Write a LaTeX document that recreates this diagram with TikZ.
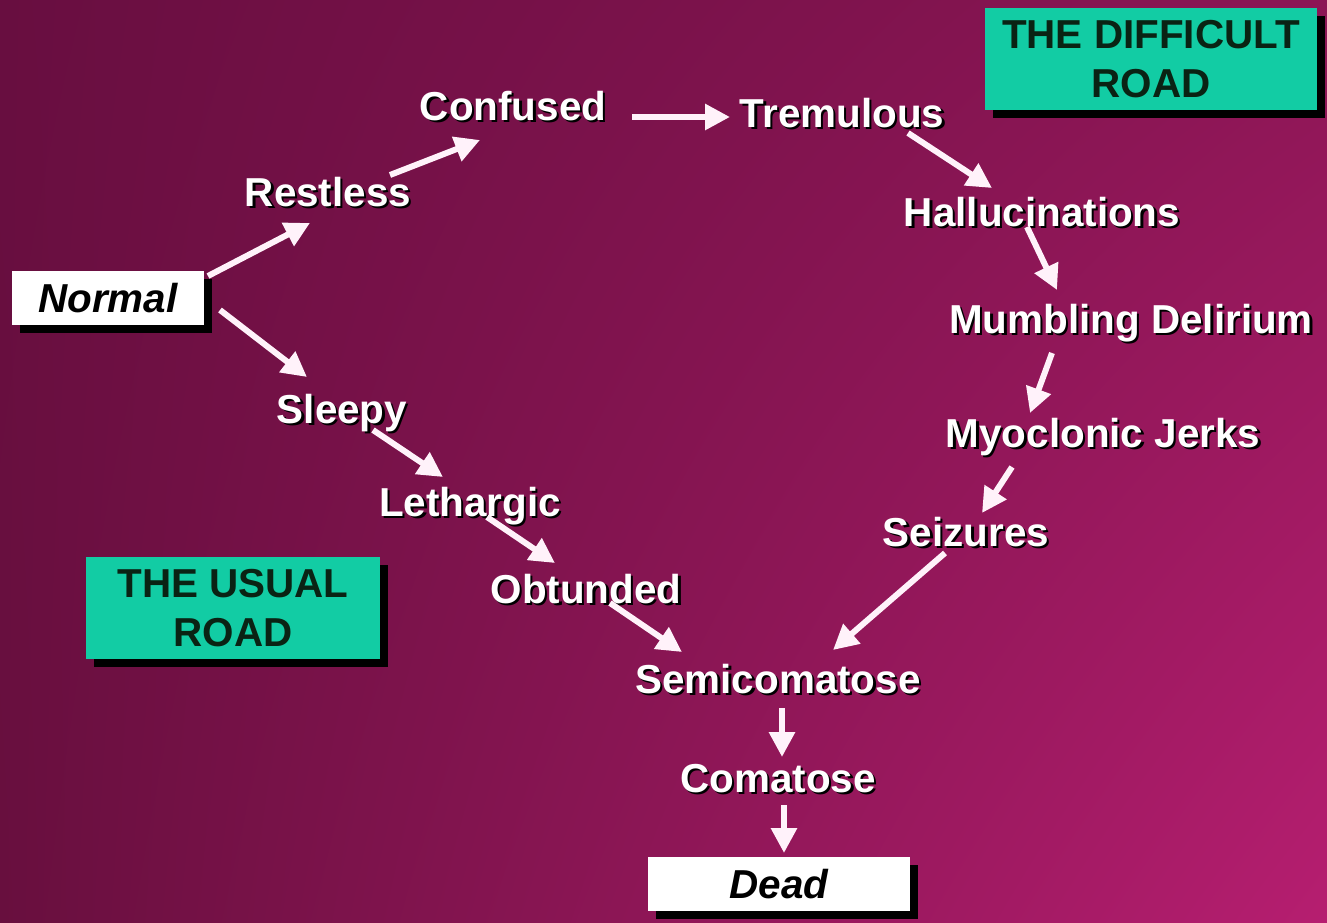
\documentclass[tikz,border=0pt]{standalone}
\usepackage{fontspec}
\setmainfont{Liberation Sans}
\usetikzlibrary{arrows.meta, shadows, shadings}

\definecolor{bgul}{RGB}{104,14,64}
\definecolor{bgur}{RGB}{140,22,85}
\definecolor{bgll}{RGB}{104,15,62}
\definecolor{bglr}{RGB}{182,30,112}
\definecolor{roadteal}{RGB}{18,204,164}
\definecolor{roadtext}{RGB}{10,35,20}
\definecolor{arrowwhite}{RGB}{255,242,250}

% white label with a small dark offset copy behind it
\newcommand\shtext[1]{\makebox[0pt][l]{\kern1.3pt\raisebox{-1.3pt}{\color{black}#1}}#1}

\begin{document}
\begin{tikzpicture}[
  x=0.02cm, y=-0.02cm,
  font=\fontsize{23}{28}\selectfont\bfseries,
  >={Triangle[length=5mm, width=5mm]},
  stage/.style={text=white, inner sep=0pt, text height=16pt, text depth=1pt},
  endbox/.style={fill=white, text=black, minimum height=1.07cm,
    font=\fontsize{23}{28}\selectfont\bfseries\itshape,
    drop shadow={shadow xshift=0.16cm, shadow yshift=-0.16cm, fill=black, opacity=1}},
  roadbox/.style={fill=roadteal, text=roadtext, align=center, minimum height=2.05cm,
    drop shadow={shadow xshift=0.16cm, shadow yshift=-0.16cm, fill=black, opacity=1}},
  flow/.style={->, arrowwhite, line width=3.4pt}
]
\useasboundingbox (0,0) rectangle (1327,922);
\shade[upper left=bgul, upper right=bgur, lower left=bgll, lower right=bglr]
  (0,0) rectangle (1327,922);

% the usual road, down the left
\node[endbox, minimum width=3.86cm] (norm) at (108,298) {Normal};
\node[stage] (rest)  at (328,193) {\shtext{Restless}};
\node[stage] (conf)  at (513,107) {\shtext{Confused}};
\node[stage] (sleep) at (342,410) {\shtext{Sleepy}};
\node[stage] (leth)  at (470,503) {\shtext{Lethargic}};
\node[stage] (obtu)  at (586,590) {\shtext{Obtunded}};
% the difficult road, round the right
\node[stage] (trem)  at (842,114) {\shtext{Tremulous}};
\node[stage] (hall)  at (1042,213) {\shtext{Hallucinations}};
\node[stage] (mumb)  at (1131,320) {\shtext{Mumbling Delirium}};
\node[stage] (myoc)  at (1103,434) {\shtext{Myoclonic Jerks}};
\node[stage] (seiz)  at (966,533) {\shtext{Seizures}};
% both roads end here
\node[stage] (semi)  at (778,680) {\shtext{Semicomatose}};
\node[stage] (coma)  at (778,779) {\shtext{Comatose}};
\node[endbox, minimum width=5.24cm] (dead) at (779,884) {Dead};

\node[roadbox, minimum width=5.88cm] (usual) at (233,608) {THE USUAL\\ROAD};
\node[roadbox, minimum width=6.64cm] (diff) at (1151,59) {THE DIFFICULT\\ROAD};

\draw[flow] ([shift={(100,-22)}]norm.center) -- ([shift={(-18,30)}]rest.center);
\draw[flow] ([shift={(62,-18)}]rest.center) -- ([shift={(-33,33)}]conf.center);
\draw[flow] ([shift={(119,10)}]conf.center) -- ([shift={(-112,3)}]trem.center);
\draw[flow] ([shift={(66,19)}]trem.center) -- ([shift={(-50,-25)}]hall.center);
\draw[flow] ([shift={(-15,14)}]hall.center) -- ([shift={(-74,-30)}]mumb.center);
\draw[flow] ([shift={(-79,33)}]mumb.center) -- ([shift={(-73,-21)}]myoc.center);
\draw[flow] ([shift={(-91,33)}]myoc.center) -- ([shift={(16,-20)}]seiz.center);
\draw[flow] ([shift={(-21,20)}]seiz.center) -- ([shift={(55,-30)}]semi.center);

\draw[flow] ([shift={(112,12)}]norm.center) -- ([shift={(-35,-33)}]sleep.center);
\draw[flow] ([shift={(31,20)}]sleep.center) -- ([shift={(-27,-26)}]leth.center);
\draw[flow] ([shift={(17,14)}]leth.center) -- ([shift={(-31,-27)}]obtu.center);
\draw[flow] ([shift={(24,13)}]obtu.center) -- ([shift={(-96,-28)}]semi.center);

\draw[flow] ([shift={(4,28)}]semi.center) -- ([shift={(4,-22)}]coma.center);
\draw[flow] ([shift={(6,26)}]coma.center) -- ([shift={(5,-31)}]dead.center);
\end{tikzpicture}
\end{document}
